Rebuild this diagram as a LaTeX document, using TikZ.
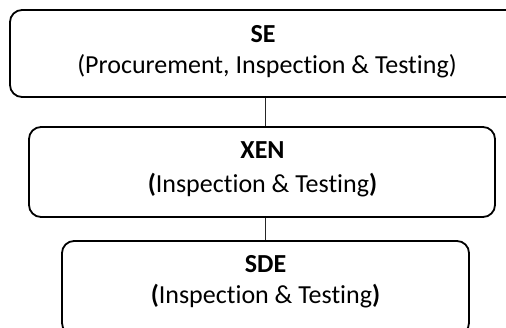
\documentclass[tikz,border=0pt]{standalone}
\usepackage{fontspec}
\setmainfont{Carlito}[RawFeature={-liga;-clig;-calt;-dlig}]
\begin{document}
\begin{tikzpicture}[x=1pt,y=-1pt,
  box/.style={draw=black, line width=1.8pt, rounded corners=12pt, inner sep=0pt},
  title/.style={anchor=base, font=\fontsize{26}{31}\selectfont\bfseries, inner sep=0pt},
  sub/.style={anchor=base, font=\fontsize{26}{31}\selectfont, inner sep=0pt},
  conn/.style={draw=black!85, line width=1.4pt}]
\useasboundingbox (0,0) rectangle (506,327);

% boxes (the top one runs past the right edge of the page)
\node[box, minimum width=520pt, minimum height=87pt] (se)  at (270,53.5) {};
\node[box, minimum width=466pt, minimum height=90pt] (xen) at (262,172) {};
\node[box, minimum width=407pt, minimum height=94pt] (sde) at (265.5,288) {};

% texts
\node[title] (seT)  at (263,42)  {SE};
\node[sub]   (seS)  at (267,73)  {(Procurement, Inspection \& Testing)};
\node[title] (xenT) at (262.5,158) {XEN};
\node[sub]   (xenS) at (262.5,192) {\textbf{(}Inspection \& Testing\textbf{)}};
\node[title] (sdeT) at (265.5,272) {SDE};
\node[sub]   (sdeS) at (265.5,303) {\textbf{(}Inspection \& Testing\textbf{)}};

% connectors
\coordinate (cx) at (265.5,0);
\draw[conn] (se.south -| cx) -- (xen.north -| cx);
\draw[conn, line width=1pt] (xen.south -| cx) -- (sde.north -| cx);
\end{tikzpicture}
\end{document}
